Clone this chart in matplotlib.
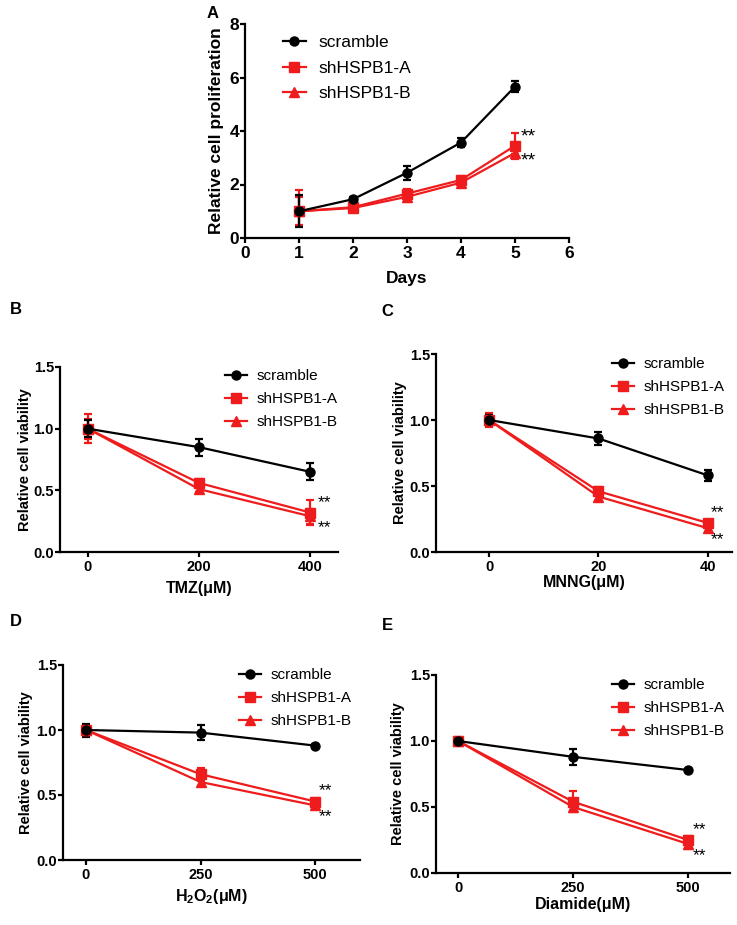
import numpy as np
import matplotlib
matplotlib.use('Agg')
import matplotlib.pyplot as plt

plt.rcParams['font.family'] = ['Liberation Sans', 'DejaVu Sans']
plt.rcParams['mathtext.fontset'] = 'custom'
plt.rcParams['mathtext.rm'] = 'Liberation Sans'
plt.rcParams['mathtext.bf'] = 'Liberation Sans:bold'

series = ['scramble', 'shHSPB1-A', 'shHSPB1-B']

# Panel A - proliferation
days = [1, 2, 3, 4, 5]
a_scr = [1.0, 1.45, 2.44, 3.57, 5.66]
a_scr_err = [0.6, 0.08, 0.26, 0.15, 0.22]
a_A = [1.0, 1.15, 1.66, 2.17, 3.45]
a_A_err_lo = [0.53, 0.08, 0.17, 0.15, 0.3]
a_A_err_hi = [0.8, 0.08, 0.17, 0.15, 0.48]
a_B = [1.0, 1.12, 1.54, 2.07, 3.18]
a_B_err = [0.55, 0.05, 0.2, 0.1, 0.22]

# Panel B - TMZ
tmz = [0, 200, 400]
b_scr = [1.0, 0.85, 0.65]
b_scr_err = [0.07, 0.07, 0.07]
b_A = [1.0, 0.56, 0.32]
b_A_err = [0.08, 0.03, 0.1]
b_B = [1.0, 0.51, 0.29]
b_B_err = [0.12, 0.02, 0.06]

# Panel C - MNNG
mnng = [0, 20, 40]
c_scr = [1.0, 0.86, 0.58]
c_scr_err = [0.04, 0.05, 0.04]
c_A = [1.0, 0.46, 0.22]
c_A_err = [0.05, 0.03, 0.02]
c_B = [1.0, 0.42, 0.18]
c_B_err = [0.04, 0.03, 0.03]

# Panel D - H2O2
h2o2 = [0, 250, 500]
d_scr = [1.0, 0.98, 0.88]
d_scr_err = [0.05, 0.06, 0.01]
d_A = [1.0, 0.66, 0.45]
d_A_err = [0.04, 0.05, 0.03]
d_B = [1.0, 0.60, 0.42]
d_B_err = [0.03, 0.03, 0.03]

# Panel E - Diamide
diamide = [0, 250, 500]
e_scr = [1.0, 0.88, 0.78]
e_scr_err = [0.02, 0.06, 0.01]
e_A = [1.0, 0.54, 0.25]
e_A_err = [0.03, 0.08, 0.03]
e_B = [1.0, 0.50, 0.22]
e_B_err = [0.02, 0.02, 0.04]

W, H = 737, 925
fig = plt.figure(figsize=(W / 100, H / 100), dpi=100)

RED = '#ee1c1c'


def px_axes(l, t, r, b):
    return fig.add_axes([l / W, 1 - b / H, (r - l) / W, (b - t) / H])


def draw(ax, x, scr, scr_e, a, a_e, b, b_e, fs):
    kw = dict(capsize=3, elinewidth=1.6, capthick=1.6, lw=1.6, clip_on=False)
    eb_b = ax.errorbar(x, b, yerr=b_e, color=RED, marker='^', ms=6.5, **kw)
    eb_a = ax.errorbar(x, a, yerr=a_e, color=RED, marker='s', ms=6.5, **kw)
    eb_s = ax.errorbar(x, scr, yerr=scr_e, color='black', marker='o', ms=6.5, **kw)
    for s in ['top', 'right']:
        ax.spines[s].set_visible(False)
    for s in ['left', 'bottom']:
        ax.spines[s].set_linewidth(1.6)
    ax.tick_params(direction='out', width=1.6, length=3.6, labelsize=fs)
    ax.tick_params(axis='y', pad=0.8)
    ax.tick_params(axis='x', pad=2.5)
    return [eb_s[0], eb_a[0], eb_b[0]]


def legend(ax, h, x, y, fs, hl, tp):
    ax.legend(h, series, loc='upper left', bbox_to_anchor=(x / W, 1 - y / H),
              bbox_transform=fig.transFigure, frameon=False, fontsize=fs,
              handlelength=hl, handletextpad=tp, labelspacing=0.6,
              borderaxespad=0, borderpad=0)


def place_labels(ax, box, xl_off, yl_off):
    l, t, r, b = box
    ax.xaxis.label.set_va('center')
    ax.yaxis.label.set_va('center')
    ax.xaxis.set_label_coords(0.5, -xl_off / (b - t))
    ax.yaxis.set_label_coords(-yl_off / (r - l), 0.5)


def bold_ticks(ax):
    for lab in ax.get_xticklabels() + ax.get_yticklabels():
        lab.set_fontweight('bold')


# A
box_a = (245, 24, 569, 238)
ax = px_axes(*box_a)
h = draw(ax, days, a_scr, a_scr_err, a_A, [a_A_err_lo, a_A_err_hi], a_B, a_B_err, 12.5)
ax.set_xlim(0, 6)
ax.set_ylim(0, 8)
ax.set_xticks(range(0, 7))
ax.set_yticks([0, 2, 4, 6, 8])
bold_ticks(ax)
ax.set_xlabel('Days', fontsize=12.5, fontweight='bold')
ax.set_ylabel('Relative cell proliferation', fontsize=12.5, fontweight='bold')
place_labels(ax, box_a, 40, 28)
legend(ax, h, 283, 35, 12.5, 1.3, 0.75)
ax.text(days[-1] + 0.1, a_A[-1] + 0.32, '**', fontsize=14, va='center')
ax.text(days[-1] + 0.1, a_B[-1] - 0.3, '**', fontsize=14, va='center')
fig.text(207 / W, 1 - 14 / H, 'A', fontsize=12, fontweight='bold', va='center')

panels = [
    (tmz, b_scr, b_scr_err, b_A, b_A_err, b_B, b_B_err, (60, 367, 338, 552), (-50, 450),
     'TMZ(μM)', (225, 369), 'B', (10, 310), 14, 36, 35),
    (mnng, c_scr, c_scr_err, c_A, c_A_err, c_B, c_B_err, (436, 354, 732, 552), (-9.7, 44.4),
     'MNNG(μM)', (612, 357), 'C', (381, 312), 0.5, 31, 36),
    (h2o2, d_scr, d_scr_err, d_A, d_A_err, d_B, d_B_err, (63, 665, 360, 860), (-50, 598),
     r'$\mathbf{H_2O_2}$(μM)', (239, 668), 'D', (10, 622), 7, 37, 37),
    (diamide, e_scr, e_scr_err, e_A, e_A_err, e_B, e_B_err, (436, 675, 730, 873), (-48, 591),
     'Diamide(μM)', (612, 678), 'E', (382, 625), 9, 32, 38),
]

for x, s, se, a, ae, b, be, box, xl, xlabel, lpos, letter, tpos, dx, xoff, yoff in panels:
    ax = px_axes(*box)
    h = draw(ax, x, s, se, a, ae, b, be, 10.5)
    ax.set_xlim(*xl)
    ax.set_ylim(0, 1.5)
    ax.set_xticks(x)
    ax.set_yticks([0, 0.5, 1.0, 1.5])
    ax.set_yticklabels(['0.0', '0.5', '1.0', '1.5'])
    bold_ticks(ax)
    ax.set_xlabel(xlabel, fontsize=11.5, fontweight='bold')
    ax.set_ylabel('Relative cell viability', fontsize=10.5, fontweight='bold')
    place_labels(ax, box, xoff, yoff)
    legend(ax, h, lpos[0], lpos[1], 11, 1.45, 0.6)
    ax.text(x[-1] + dx, a[-1] + 0.08, '**', fontsize=12.5, va='center')
    ax.text(x[-1] + dx, b[-1] - 0.09, '**', fontsize=12.5, va='center')
    fig.text(tpos[0] / W, 1 - tpos[1] / H, letter, fontsize=12, fontweight='bold', va='center')

fig.savefig('out.png', dpi=100)
